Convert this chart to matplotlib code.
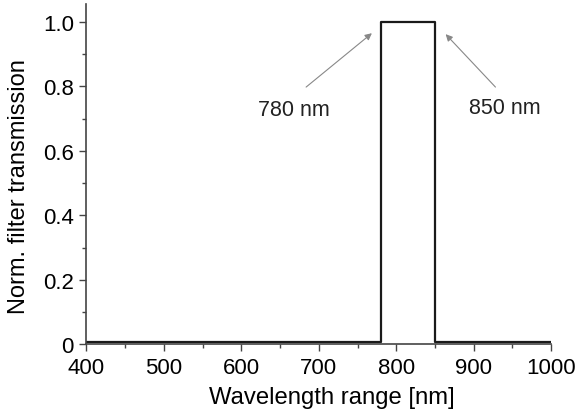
import numpy as np
import matplotlib
matplotlib.use("Agg")
import matplotlib.pyplot as plt
from matplotlib.ticker import MultipleLocator

# filter transmission profile (band-pass 780-850 nm)
wavelength = [400, 780, 780, 850, 850, 1000]
transmission = [0.008, 0.008, 1.0, 1.0, 0.008, 0.008]

plt.rcParams['font.family'] = ['Liberation Sans', 'DejaVu Sans']

fig = plt.figure(figsize=(5.76, 4.14), dpi=100)
ax = fig.add_axes([0.150, 0.1655, 0.807, 0.822])

ax.plot(wavelength, transmission, color='#1a1a1a', lw=1.6)

ax.set_xlim(400, 1000)
ax.set_ylim(0, 1.055)
ax.spines['top'].set_visible(False)
ax.spines['right'].set_visible(False)
for s in ['left', 'bottom']:
    ax.spines[s].set_color('#444444')
    ax.spines[s].set_linewidth(1.2)

ax.xaxis.set_major_locator(MultipleLocator(100))
ax.xaxis.set_minor_locator(MultipleLocator(50))
ax.set_yticks([0, 0.2, 0.4, 0.6, 0.8, 1.0])
ax.set_yticklabels(['0', '0.2', '0.4', '0.6', '0.8', '1.0'])
ax.yaxis.set_minor_locator(MultipleLocator(0.1))
ax.tick_params(which='major', length=5, width=1, color='#444444', labelsize=16)
ax.tick_params(axis='x', which='major', pad=4)
ax.tick_params(axis='y', which='major', pad=4)
ax.tick_params(which='minor', length=3, width=1, color='#444444')

ax.set_xlabel('Wavelength range [nm]', fontsize=17.2)
ax.set_ylabel('Norm. filter transmission', fontsize=17)
ax.xaxis.set_label_coords(0.528, -0.123)
ax.yaxis.set_label_coords(-0.122, 0.468)

arrow = dict(arrowstyle='-|>', color='#888888', lw=0.8, mutation_scale=10, shrinkA=0, shrinkB=0)
ax.annotate('', xy=(768.5, 0.965), xytext=(683.6, 0.798), arrowprops=arrow)
ax.annotate('', xy=(863.7, 0.962), xytext=(928, 0.798), arrowprops=arrow)
ax.text(667.5, 0.730, '780 nm', fontsize=15.5, ha='center', va='center', color='#222222')
ax.text(940, 0.736, '850 nm', fontsize=15.5, ha='center', va='center', color='#222222')

fig.savefig('out.png', dpi=100)
